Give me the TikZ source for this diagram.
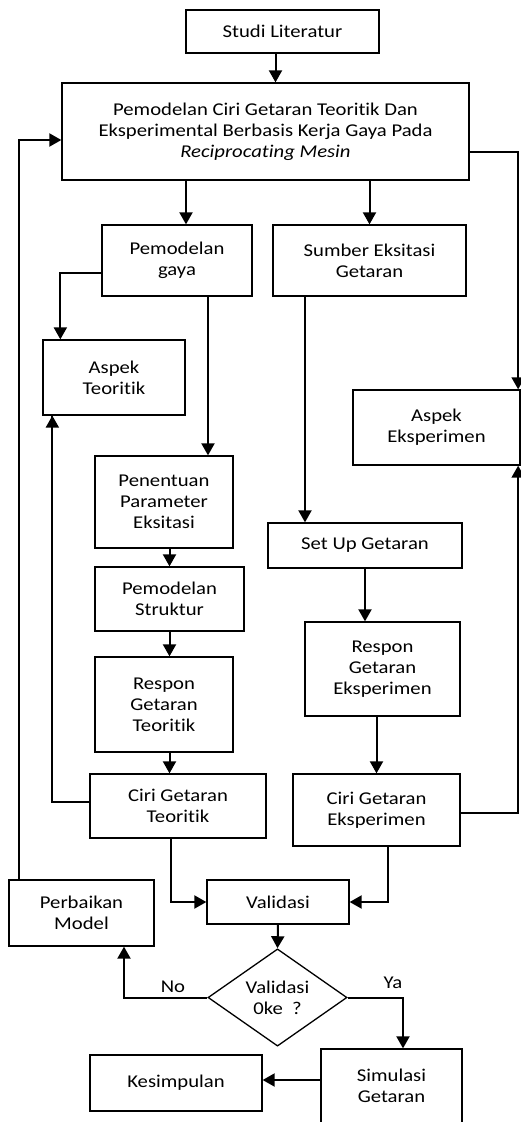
\documentclass[tikz,border=0pt]{standalone}
\usepackage{fontspec}
\setmainfont[Ligatures=NoCommon, FakeStretch=1.15]{Carlito}
\usepackage{tikz}
\usetikzlibrary{arrows.meta,positioning,calc,shapes.geometric}

\begin{document}
\begin{tikzpicture}[
  x=1pt, y=-1pt,
  every node/.style={font=\fontsize{18}{21}\selectfont},
  box/.style={draw, line width=1.3pt, align=center, inner sep=2pt},
  decision/.style={draw, diamond, line width=1.3pt, align=center, inner sep=0pt},
  arr/.style={line width=2pt, -{Triangle[length=12pt,width=13pt]}},
  link/.style={line width=2pt},
  lab/.style={inner sep=1pt}
]
\useasboundingbox (0,0) rectangle (520,1122);

% top
\node[box, minimum width=193, minimum height=43] (studi) at (282.5,31.5) {Studi Literatur};
\node[box, minimum width=407, minimum height=97] (model) at (265.5,131.5)
  {Pemodelan Ciri Getaran Teoritik Dan\\Eksperimental Berbasis Kerja Gaya Pada\\\textit{Reciprocating Mesin}};

% second row
\node[box, minimum width=150, minimum height=71] (gaya) at (177,260.5) {Pemodelan\\gaya};
\node[box, minimum width=193, minimum height=71] (sumber) at (369.5,260.5) {Sumber Eksitasi\\Getaran};
\node[box, minimum width=142, minimum height=75] (teori) at (114,377.5) {Aspek\\Teoritik};
\node[box, minimum width=167, minimum height=75] (eksp) at (436.5,427.5) {Aspek\\Eksperimen};

% teoritik branch
\node[box, minimum width=138, minimum height=92] (param) at (164,502) {Penentuan\\Parameter\\Eksitasi};
\node[box, minimum width=149, minimum height=64] (struktur) at (169.5,599) {Pemodelan\\Struktur};
\node[box, minimum width=138, minimum height=95] (responT) at (164,704.5) {Respon\\Getaran\\Teoritik};
\node[box, minimum width=176, minimum height=64] (ciriT) at (178,806) {Ciri Getaran\\Teoritik};

% eksperimen branch
\node[box, minimum width=194, minimum height=45] (setup) at (365,545.5) {Set Up Getaran};
\node[box, minimum width=155, minimum height=94] (responE) at (382.5,669) {Respon\\Getaran\\Eksperimen};
\node[box, minimum width=167, minimum height=72] (ciriE) at (376.5,810) {Ciri Getaran\\Eksperimen};

% bottom
\node[box, minimum width=142, minimum height=44] (valid) at (278,902) {Validasi};
\node[box, minimum width=145, minimum height=66] (perbaikan) at (81.5,913) {Perbaikan\\Model};
\node[decision, minimum width=139, minimum height=93] (dec) at (277.5,997.5) {Validasi\\0ke\ \ ?};
\node[box, minimum width=141, minimum height=74] (simulasi) at (391.5,1086) {Simulasi\\Getaran};
\node[box, minimum width=172, minimum height=56] (kesimpulan) at (176,1083) {Kesimpulan};
\node[lab] (nolab) at (173,987) {No};
\node[lab] (yalab) at (393,983) {Ya};

% connectors
\draw[arr] (studi.south |- studi.south) ++(-7,0) coordinate (s1) -- (s1 |- model.north);
\draw[arr] ([xshift=9]gaya.north |- model.south) -- ([xshift=9]gaya.north);
\draw[arr] (sumber.north |- model.south) -- (sumber.north);
\draw[arr] ([yshift=-20]model.east) -| ([xshift=-2.5]eksp.north east);
\draw[arr] ([yshift=-12]gaya.west) -| ([xshift=18]teori.north west);
\draw[arr] ([xshift=31]gaya.south) -- ([xshift=31]gaya.south |- param.north);
\draw[arr] ([xshift=-64.5]sumber.south) -- ([xshift=-64.5]sumber.south |- setup.north);
\draw[arr] (struktur.north |- param.south) -- (struktur.north);
\draw[arr] (struktur.south) -- (struktur.south |- responT.north);
\draw[arr] (struktur.south |- responT.south) -- (struktur.south |- ciriT.north);
\draw[link] ([yshift=4]ciriT.west) -| ([xshift=10]teori.south west) coordinate (t1);
\draw[arr] ([yshift=-30]t1) -- (t1);
\draw[arr] (setup.south) -- (setup.south |- responE.north);
\draw[arr] (ciriE.north |- responE.south) -- (ciriE.north);
\draw[arr] ([yshift=-3]ciriE.east) -| ([xshift=-2.5]eksp.south east);
\draw[arr] ([xshift=-7]ciriT.south) |- (valid.west);
\draw[arr] ([xshift=11.5]ciriE.south) |- (valid.east);
\draw[arr] (valid.south) -- (dec.north);
\draw[arr] ([xshift=11]perbaikan.north west) |- ([yshift=-8.5]model.west);
\draw[arr] (dec.west) -| ([xshift=42.5]perbaikan.south);
\draw[arr] (dec.east) -| ([xshift=11.5]simulasi.north);
\draw[arr] ([yshift=6]simulasi.west) -- ([yshift=6]simulasi.west -| kesimpulan.east);
\end{tikzpicture}
\end{document}
